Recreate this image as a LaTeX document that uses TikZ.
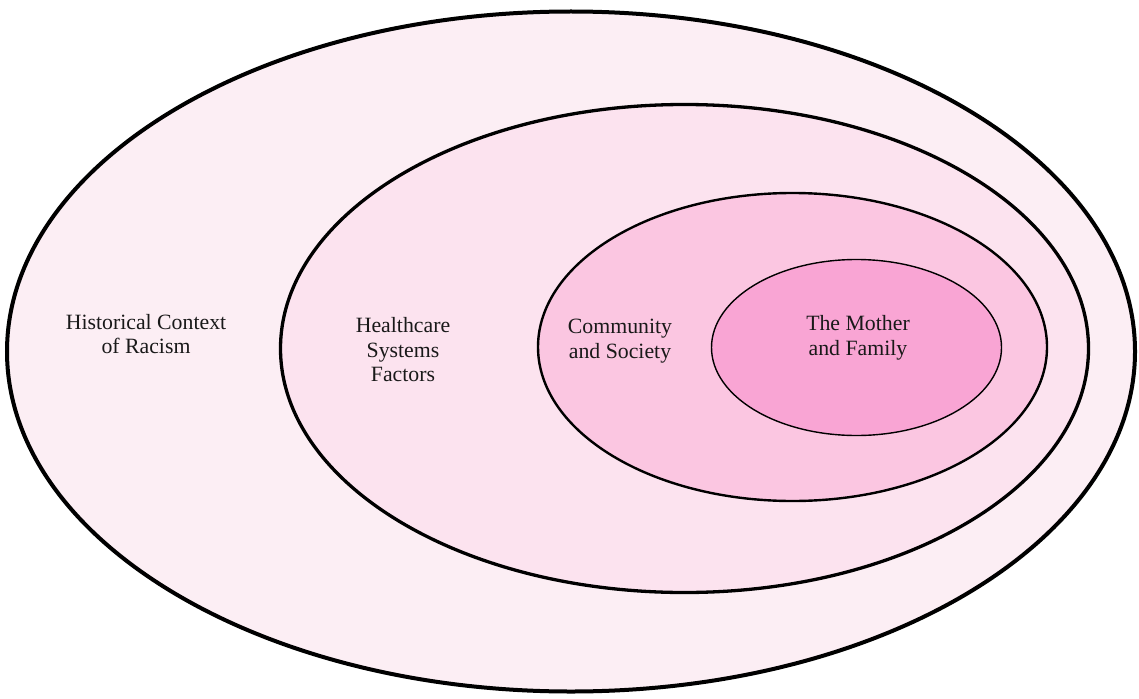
\documentclass[tikz,border=0pt]{standalone}
\usepackage{fontspec}
\setmainfont{Liberation Serif}
\definecolor{ringA}{RGB}{252,238,244}
\definecolor{ringB}{RGB}{252,227,239}
\definecolor{ringC}{RGB}{251,198,225}
\definecolor{ringD}{RGB}{249,165,212}
\tikzset{
  ring/.style={draw=black},
  lbl/.style={align=center, font=\fontsize{21.8}{24.5}\selectfont, text=black!90, inner sep=0pt}
}
\begin{document}
\begin{tikzpicture}[x=1pt,y=-1pt]
\useasboundingbox (0,0) rectangle (1139,698);
\fill[white] (0,0) rectangle (1139,698);
\draw[ring, fill=ringA, line width=4pt] (571,351.5) ellipse [x radius=564, y radius=340];
\draw[ring, fill=ringB, line width=3.3pt] (684.5,348.5) ellipse [x radius=404, y radius=244];
\draw[ring, fill=ringC, line width=2.4pt] (792.5,347) ellipse [x radius=254.5, y radius=154];
\draw[ring, fill=ringD, line width=1.4pt] (856.5,347.5) ellipse [x radius=145, y radius=88];
\node[lbl] (hist) at (146,334) {Historical Context\\of Racism};
\node[lbl] (hcs) at (403,350) {Healthcare\\Systems\\Factors};
\node[lbl] (comm) at (620,341) {Community\\and Society};
\node[lbl] (mom) at (858,338) {The Mother\\and Family};
\end{tikzpicture}
\end{document}
